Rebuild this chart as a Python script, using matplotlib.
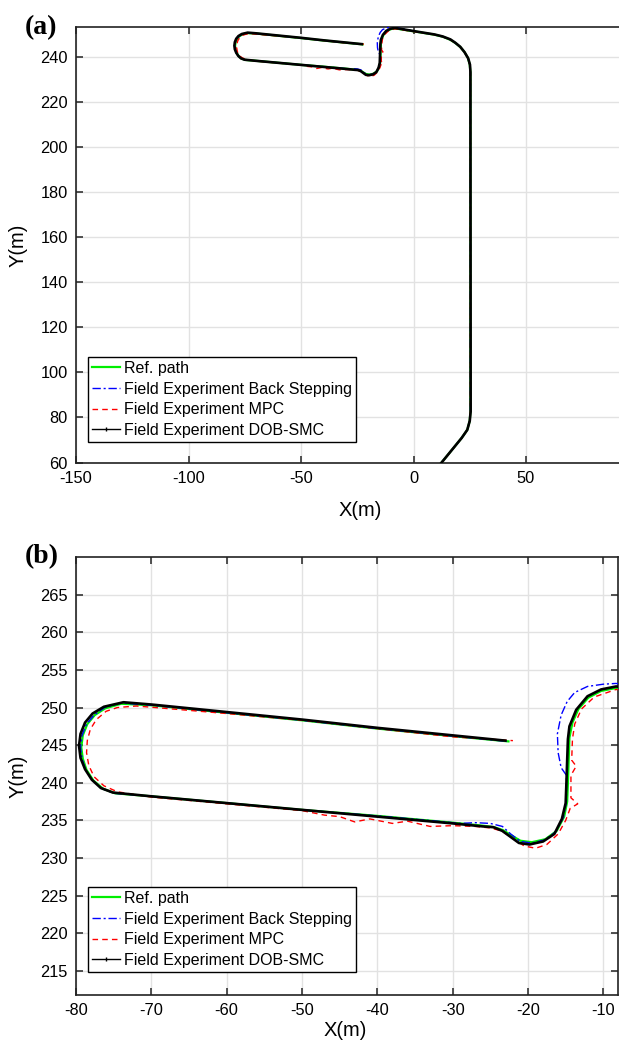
import matplotlib
matplotlib.use("Agg")
import matplotlib.pyplot as plt
from matplotlib.lines import Line2D

plt.rcParams['font.family'] = ['Liberation Sans', 'DejaVu Sans']
plt.rcParams['axes.unicode_minus'] = False

# ---- trajectories (X, Y in metres) ----
ref_x = [11.5, 21.4, 23.9, 25.0, 25.3, 25.3, 25.0, 24.2, 22.6, 20.7, 18.5, 16.2, 13.0, 9.3, 0.0,
         -8.3, -10.3, -12.0, -13.3, -14.1, -14.5, -14.6, -14.7, -14.8, -15.2, -16.2, -17.7, -19.5,
         -21.0, -22.2, -23.3, -24.5, -26.0, -30.0, -40.0, -50.0, -60.0, -70.0, -74.8, -76.4, -77.7,
         -78.6, -79.1, -79.3, -79.1, -78.5, -77.5, -76.1, -74.0, -70.0, -60.0, -50.0, -40.0, -30.0, -22.6]
ref_y = [58.8, 70.9, 74.5, 78.5, 83.0, 233.0, 236.5, 239.5, 242.2, 244.4, 246.2, 247.6, 248.9, 249.8, 251.3,
         252.6, 252.2, 251.3, 249.8, 248.0, 246.0, 243.0, 240.0, 237.5, 235.5, 233.6, 232.5, 232.1,
         232.3, 233.0, 233.7, 234.1, 234.3, 234.7, 235.6, 236.4, 237.3, 238.2, 238.6, 239.2, 240.3,
         241.7, 243.2, 244.7, 246.3, 247.8, 249.0, 249.9, 250.5, 250.3, 249.3, 248.3, 247.2, 246.2, 245.5]

bs_x = [11.5, 21.4, 23.9, 25.0, 25.3, 25.3, 25.0, 24.2, 22.6, 20.7, 18.5, 16.2, 13.0, 9.3, 0.0,
        -8.3, -10.0, -12.1, -13.8, -14.8, -15.6, -16.1, -16.0, -15.6, -14.9, -14.9, -15.3, -16.3,
        -17.8, -19.5, -21.0, -22.3, -23.4, -25.0, -27.0, -29.0, -31.0, -40.0, -50.0, -60.0, -70.0,
        -74.9, -76.5, -77.8, -78.7, -79.2, -79.4, -79.2, -78.6, -77.6, -76.2, -74.0, -70.0, -60.0,
        -50.0, -40.0, -30.0, -22.8]
bs_y = [58.8, 70.9, 74.5, 78.5, 83.0, 233.0, 236.5, 239.5, 242.2, 244.4, 246.2, 247.6, 248.9, 249.8, 251.4,
        253.2, 253.1, 252.8, 252.0, 250.8, 249.0, 246.5, 244.0, 242.0, 241.0, 237.5, 235.4, 233.5,
        232.4, 232.0, 232.2, 233.2, 234.2, 234.6, 234.7, 234.6, 234.8, 235.6, 236.4, 237.3, 238.2,
        238.6, 239.2, 240.3, 241.7, 243.2, 244.7, 246.3, 247.8, 249.0, 250.0, 250.6, 250.3, 249.3,
        248.3, 247.2, 246.2, 245.5]

mpc_x = [11.8, 21.4, 23.9, 25.0, 25.3, 25.3, 25.0, 24.2, 22.6, 20.7, 18.5, 16.2, 13.0, 9.3, 0.0,
         -8.3, -11.2, -12.9, -13.8, -14.1, -14.2, -13.6, -14.3, -14.3, -13.4, -14.4, -15.0, -16.0,
         -17.5, -19.0, -20.5, -22.0, -23.5, -25.0, -27.0, -30.0, -33.0, -36.0, -38.0, -41.0, -43.0,
         -45.0, -47.0, -50.0, -60.0, -70.0, -74.5, -76.3, -77.6, -78.3, -78.6, -78.5, -78.1, -77.3,
         -76.0, -74.5, -72.0, -69.5, -60.0, -50.0, -40.0, -30.0, -22.0]
mpc_y = [59.0, 70.9, 74.5, 78.5, 83.0, 233.0, 236.5, 239.5, 242.2, 244.4, 246.2, 247.6, 248.9, 249.8, 251.2,
         252.4, 251.4, 249.8, 247.8, 245.8, 243.0, 242.2, 241.0, 238.0, 237.2, 236.6, 235.0, 233.2,
         231.8, 231.3, 231.6, 232.6, 233.6, 234.0, 234.2, 234.3, 234.2, 234.9, 234.6, 235.2, 234.8,
         235.5, 235.7, 236.3, 237.2, 238.1, 238.8, 239.6, 240.8, 242.3, 244.0, 245.6, 247.1, 248.4,
         249.5, 250.0, 250.2, 250.0, 249.2, 248.3, 247.2, 246.1, 245.6]

smc_x = [11.5, 21.4, 23.9, 25.0, 25.4, 25.3, 25.1, 24.3, 22.7, 20.8, 18.6, 16.4, 13.0, 9.3, 0.0,
         -8.3, -10.3, -12.1, -13.6, -14.5, -14.7, -14.8, -14.9, -15.0, -15.5, -16.5, -18.0, -19.8,
         -21.2, -22.3, -23.4, -24.6, -26.0, -30.0, -40.0, -50.0, -60.0, -70.0, -75.1, -76.7, -77.9,
         -78.8, -79.4, -79.6, -79.4, -78.8, -77.8, -76.3, -73.7, -70.0, -60.0, -50.0, -40.0, -30.0, -23.0]
smc_y = [58.8, 70.9, 74.5, 78.5, 82.6, 233.3, 236.5, 239.3, 242.0, 244.4, 246.2, 247.7, 249.0, 249.9, 251.4,
         252.8, 252.4, 251.5, 249.7, 247.5, 245.8, 243.0, 240.0, 237.3, 235.2, 233.2, 232.2, 231.8,
         232.0, 232.8, 233.6, 234.1, 234.2, 234.6, 235.5, 236.4, 237.3, 238.2, 238.7, 239.3, 240.4,
         241.8, 243.3, 244.9, 246.5, 248.0, 249.2, 250.1, 250.7, 250.4, 249.4, 248.4, 247.3, 246.3, 245.6]

labels = ['Ref. path', 'Field Experiment Back Stepping',
          'Field Experiment MPC', 'Field Experiment DOB-SMC']

# ---- figure layout (pixel based) ----
W, H = 619, 1050
fig = plt.figure(figsize=(W / 100, H / 100), dpi=100)


def px_axes(left, top, right, bottom):
    return fig.add_axes([left / W, 1 - bottom / H, (right - left) / W, (bottom - top) / H])


ax_a = px_axes(76, 27, 638.5, 463)
ax_b = px_axes(76, 557, 618.4, 995)

# axes, xlim, ylim, xticks, yticks, legend bottom (px), axes width/height/bottom (px),
# x-label centre and top (px)
panels = [
    (ax_a, (-150, 100), (59.8, 253.2), [-150, -100, -50, 0, 50], list(range(60, 241, 20)),
     442, 562.5, 436, 463, 360, 501),
    (ax_b, (-80, -8), (211.8, 270.0), list(range(-80, -9, 10)), list(range(215, 266, 5)),
     972, 542.4, 438, 995, 345, 1021),
]

for ax, xl, yl, xt, yt, leg_bottom, wpx, hpx, bpx, xlab_cx, xlab_top in panels:
    ax.plot(ref_x, ref_y, color='#00ee00', lw=1.6, zorder=3)
    ax.plot(bs_x, bs_y, color='#0000ff', lw=1.0, ls=(0, (6, 2, 1.5, 2)), zorder=4)
    ax.plot(mpc_x, mpc_y, color='#ff0000', lw=1.0, ls=(0, (4, 3)), zorder=4)
    ax.plot(smc_x, smc_y, color='black', lw=1.9, zorder=5)

    ax.set_xlim(*xl)
    ax.set_ylim(*yl)
    ax.set_xticks(xt)
    ax.set_yticks(yt)
    ax.grid(True, color='#e2e2e2', lw=1.0)
    ax.set_axisbelow(True)
    ax.tick_params(direction='in', top=True, right=True, length=5, width=1.2,
                   color='#333333', labelsize=11.8, pad=6)
    for s in ax.spines.values():
        s.set_linewidth(1.2)
        s.set_color('#222222')
    ax.set_xlabel('X(m)', fontsize=14.5)
    ax.set_ylabel('Y(m)', fontsize=14.5)
    ax.xaxis.set_label_coords((xlab_cx - 76) / wpx, -(xlab_top - bpx) / hpx)
    ax.yaxis.set_label_coords(-(76 - 28) / wpx, 0.5)

    handles = [
        Line2D([], [], color='#00ee00', lw=1.6),
        Line2D([], [], color='#0000ff', lw=1.0, ls=(0, (6, 2, 1.5, 2))),
        Line2D([], [], color='#ff0000', lw=1.0, ls=(0, (4, 3))),
        Line2D([], [], color='black', lw=1.0, marker='|', markersize=3),
    ]
    leg = ax.legend(handles, labels, loc='lower left', fontsize=11.5,
                    frameon=True, fancybox=False, framealpha=1,
                    edgecolor='black', handlelength=1.75, handletextpad=0.25,
                    labelspacing=0.36, borderpad=0.25, borderaxespad=0.0,
                    bbox_to_anchor=(88 / W, 1 - leg_bottom / H),
                    bbox_transform=fig.transFigure)
    leg.get_frame().set_linewidth(1.0)

fig.text(25 / W, 1 - 28 / H, '(a)', family='Liberation Serif', weight='bold',
         fontsize=20, ha='left', va='center')
fig.text(25 / W, 1 - 557 / H, '(b)', family='Liberation Serif', weight='bold',
         fontsize=20, ha='left', va='center')

fig.savefig('out.png', dpi=100)
